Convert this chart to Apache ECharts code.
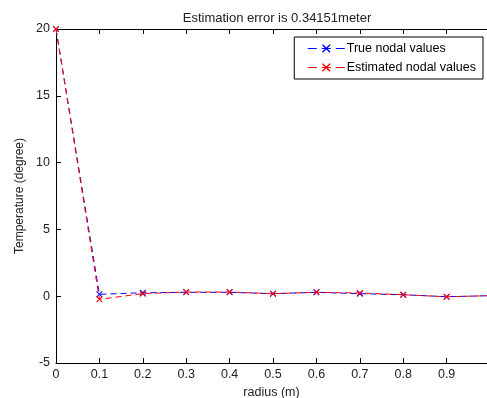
<!DOCTYPE html>
<html>
<head>
<meta charset="utf-8">
<script src="https://cdn.jsdelivr.net/npm/echarts@6/dist/echarts.min.js"></script>
<style>
  html, body { margin: 0; padding: 0; background: #fff; }
  #chart { width: 487px; height: 398px; }
</style>
</head>
<body>
<div id="chart"></div>
<script>
// radius nodes (m)
const radius = [0, 0.1, 0.2, 0.3, 0.4, 0.5, 0.6, 0.7, 0.8, 0.9, 1.0]
// temperatures (degree)
const trueValues = [20, 0.14, 0.26, 0.29, 0.29, 0.19, 0.29, 0.19, 0.11, -0.04, 0.04]
const estimatedValues = [20, -0.23, 0.19, 0.31, 0.31, 0.19, 0.29, 0.24, 0.11, -0.04, 0.04]
const yTicks = [-5, 0, 5, 10, 15, 20]

const FONT = 'Liberation Sans, Arial, sans-serif'
// MATLAB-style 'x' marker
const crossMark = 'path://M0,0L1.2,0L10,8.8L10,10L8.8,10L0,1.2Z M10,0L10,1.2L1.2,10L0,10L0,8.8L8.8,0Z'

function toPairs (xs, ys) {
  return xs.map((x, i) => [x, ys[i]])
}

const chart = echarts.init(document.getElementById('chart'))

const option = {
  animation: false,
  backgroundColor: '#fff',
  title: {
    text: 'Estimation error is 0.34151meter',
    left: 272,
    textAlign: 'center',
    top: 7,
    textStyle: { fontFamily: FONT, fontSize: 13, fontWeight: 'normal', color: '#222' }
  },
  grid: { left: 56, top: 29, right: 0, bottom: 35, containLabel: false, outerBoundsMode: 'none' },
  legend: {
    orient: 'vertical',
    right: 4,
    top: 37,
    padding: [5, 7, 5, 13],
    itemGap: 6,
    itemWidth: 37,
    itemHeight: 10,
    borderColor: '#000',
    borderWidth: 1,
    borderRadius: 0,
    backgroundColor: '#fff',
    lineStyle: { width: 1, type: [9, 5] },
    textStyle: { fontFamily: FONT, fontSize: 12.5, color: '#000', padding: [0, 0, 0, -3] },
    data: ['True nodal values', 'Estimated nodal values']
  },
  xAxis: [
    {
      type: 'value',
      min: 0,
      max: 0.993,
      interval: 0.1,
      name: 'radius (m)',
      nameLocation: 'middle',
      nameGap: 22,
      nameTextStyle: { fontFamily: FONT, fontSize: 12.5, color: '#222' },
      axisLine: { onZero: false, lineStyle: { color: '#000', width: 1 } },
      axisTick: { inside: true, length: 5, lineStyle: { color: '#000' } },
      axisLabel: {
        fontFamily: FONT, fontSize: 12.5, color: '#222', margin: 5,
        showMaxLabel: false,
        formatter: (v) => String(Math.round(v * 10) / 10)
      },
      splitLine: { show: false }
    },
    {
      type: 'value',
      position: 'top',
      min: 0,
      max: 0.993,
      interval: 0.1,
      axisLine: { onZero: false, lineStyle: { color: '#000', width: 1 } },
      axisTick: { inside: true, length: 5, lineStyle: { color: '#000' } },
      axisLabel: { show: false },
      splitLine: { show: false }
    }
  ],
  yAxis: {
    type: 'value',
    min: yTicks[0],
    max: yTicks[yTicks.length - 1],
    interval: 5,
    name: 'Temperature (degree)',
    nameLocation: 'middle',
    nameGap: 19,
    nameTextStyle: { fontFamily: FONT, fontSize: 12, color: '#222' },
    axisLine: { show: true, onZero: false, lineStyle: { color: '#000', width: 1 } },
    axisTick: { show: true, inside: true, length: 5, lineStyle: { color: '#000' } },
    axisLabel: { fontFamily: FONT, fontSize: 12.5, color: '#222', margin: 6 },
    splitLine: { show: false }
  },
  series: [
    {
      name: 'True nodal values',
      type: 'line',
      data: toPairs(radius, trueValues),
      symbol: crossMark,
      symbolSize: 6,
      showAllSymbol: true,
      clip: true,
      color: '#0000ff',
      itemStyle: { color: '#0000ff' },
      lineStyle: { color: '#0000ff', width: 1, type: [6, 4] },
      z: 2
    },
    {
      name: 'Estimated nodal values',
      type: 'line',
      data: toPairs(radius, estimatedValues),
      symbol: crossMark,
      symbolSize: 6,
      showAllSymbol: true,
      clip: true,
      color: '#ff0000',
      itemStyle: { color: '#ff0000' },
      lineStyle: { color: '#ff0000', width: 1, type: [6, 4] },
      z: 3
    }
  ]
}

chart.setOption(option)
</script>
</body>
</html>
